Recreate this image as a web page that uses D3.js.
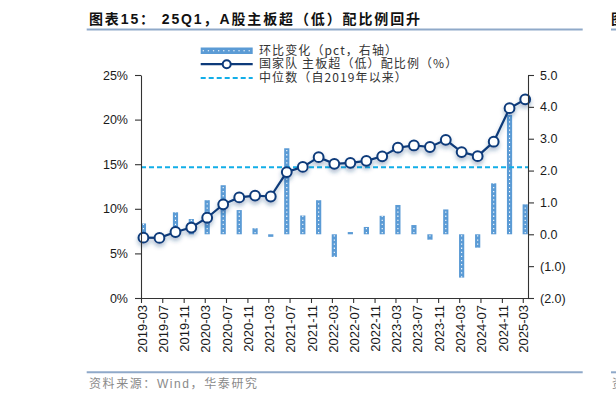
<!DOCTYPE html>
<html>
<head>
<meta charset="utf-8">
<script src="https://cdn.jsdelivr.net/npm/d3@7"></script>
<style>
    body { margin: 0; background: #fff; }
    svg { display: block; font-family: 'Liberation Sans', Arial, 'Noto Sans CJK SC', sans-serif; }
</style>
</head>
<body>
<div id="chart"></div>
<script>
// quarterly observations, 2019-03 .. 2025-03
const categories = [
    '2019-03', '2019-06', '2019-09', '2019-12',
    '2020-03', '2020-06', '2020-09', '2020-12',
    '2021-03', '2021-06', '2021-09', '2021-12',
    '2022-03', '2022-06', '2022-09', '2022-12',
    '2023-03', '2023-06', '2023-09', '2023-12',
    '2024-03', '2024-06', '2024-09', '2024-12',
    '2025-03'
];
// 国家队 主板超（低）配比例（%），左轴
const ratioValues = [
    6.76, 6.74, 7.40, 7.90, 9.00, 10.50, 11.28, 11.48, 11.38, 14.12, 14.70, 15.79,
    15.04, 15.15, 15.38, 15.88, 16.85, 17.10, 16.93, 17.73, 16.36, 15.90, 17.52, 21.28,
    22.27
];
// 环比变化（pct），右轴
const changeValues = [
    0.34, 0.00, 0.69, 0.48, 1.07, 1.54, 0.76, 0.19, -0.08, 2.70, 0.59, 1.07,
    -0.71, 0.07, 0.23, 0.58, 0.92, 0.29, -0.17, 0.78, -1.36, -0.42, 1.60, 3.75,
    0.94
];
const medianValue = 14.65;
const xTickLabels = [
    '2019-03', '2019-07', '2019-11', '2020-03', '2020-07', '2020-11', '2021-03',
    '2021-07', '2021-11', '2022-03', '2022-07', '2022-11', '2023-03', '2023-07',
    '2023-11', '2024-03', '2024-07', '2024-11', '2025-03'
];
const leftTicks = [0, 5, 10, 15, 20, 25];
const rightTicks = [-2, -1, 0, 1, 2, 3, 4, 5];
const legendLabels = ['环比变化（pct，右轴）', '国家队 主板超（低）配比例（%）', '中位数（自2019年以来）'];
const titleText = '图表15： 25Q1，A股主板超（低）配比例回升';
const sourceText = '资料来源：Wind，华泰研究';

const NAVY = '#0d3a7a';
const BAR = '#5b9bd5';
const CYAN = '#12aee8';
const RULE = '#8fa9c9';

const W = 616, H = 403;
const plot = {left: 141, right: 528, top: 75, bottom: 298};

const monthStart = d3.timeParse('%Y-%m');
const midMonth = s => d3.timeDay.offset(monthStart(s), 14);

const svg = d3.select('#chart').append('svg')
    .attr('width', W)
    .attr('height', H);

const defs = svg.append('defs');
const shadow = defs.append('filter')
    .attr('id', 'shadow')
    .attr('x', '-10%').attr('y', '-30%')
    .attr('width', '120%').attr('height', '180%');
shadow.append('feDropShadow')
    .attr('dx', 0).attr('dy', 3)
    .attr('stdDeviation', 2)
    .attr('flood-color', '#1d3f7a')
    .attr('flood-opacity', 0.35);
defs.append('clipPath').attr('id', 'plotclip')
    .append('rect')
    .attr('x', plot.left).attr('y', plot.top)
    .attr('width', plot.right - plot.left)
    .attr('height', plot.bottom - plot.top);

// header and footer
svg.append('text')
    .attr('x', 89).attr('y', 24)
    .attr('font-size', 14).attr('font-weight', 'bold')
    .attr('fill', '#111')
    .attr('textLength', 331).attr('lengthAdjust', 'spacing')
    .text(titleText);
svg.append('text')
    .attr('x', 611).attr('y', 24)
    .attr('font-size', 14).attr('font-weight', 'bold')
    .attr('fill', '#111')
    .text('图');
[29.5, 372.3].forEach(y => {
    svg.append('line')
        .attr('x1', 86.7).attr('x2', 582.7)
        .attr('y1', y).attr('y2', y)
        .attr('stroke', RULE).attr('stroke-width', 2);
    svg.append('line')
        .attr('x1', 611).attr('x2', W)
        .attr('y1', y).attr('y2', y)
        .attr('stroke', RULE).attr('stroke-width', 2);
});
svg.append('text')
    .attr('x', 89).attr('y', 387.5)
    .attr('font-size', 12).attr('fill', '#8a8a8a')
    .attr('textLength', 168).attr('lengthAdjust', 'spacing')
    .text(sourceText);
svg.append('text')
    .attr('x', 612).attr('y', 387.5)
    .attr('font-size', 12).attr('fill', '#8a8a8a')
    .text('资');

// scales
const x = d3.scaleTime()
    .domain([monthStart(categories[0]), d3.timeDay.offset(d3.timeMonth.offset(monthStart(categories[categories.length - 1]), 1), -1)])
    .range([plot.left, plot.right]);
const yLeft = d3.scaleLinear().domain([0, 25]).range([plot.bottom, plot.top]);
const yRight = d3.scaleLinear().domain([-2, 5]).range([plot.bottom, plot.top]);

const rows = categories.map((c, i) => ({date: midMonth(c), ratio: ratioValues[i], change: changeValues[i]}));

// bars (right axis)
const bars = svg.append('g').attr('clip-path', 'url(#plotclip)');
bars.selectAll('rect')
    .data(rows)
    .join('rect')
    .attr('x', d => x(d.date) - 2.6)
    .attr('width', 5.2)
    .attr('y', d => yRight(Math.max(0, d.change)))
    .attr('height', d => Math.abs(yRight(d.change) - yRight(0)))
    .attr('fill', BAR);
bars.selectAll('line')
    .data(rows.filter(d => Math.abs(yRight(d.change) - yRight(0)) > 3))
    .join('line')
    .attr('x1', d => x(d.date)).attr('x2', d => x(d.date))
    .attr('y1', d => yRight(0) - (d.change > 0 ? 1 : -1))
    .attr('y2', d => yRight(d.change))
    .attr('stroke', '#fff')
    .attr('stroke-width', 1.1)
    .attr('stroke-dasharray', '1.3,2.8');

// median
svg.append('line')
    .attr('x1', plot.left).attr('x2', plot.right)
    .attr('y1', yLeft(medianValue)).attr('y2', yLeft(medianValue))
    .attr('stroke', CYAN)
    .attr('stroke-width', 2)
    .attr('stroke-dasharray', '5,3');

// line + markers (left axis)
const line = d3.line()
    .x(d => x(d.date))
    .y(d => yLeft(d.ratio));
const series = svg.append('g').attr('filter', 'url(#shadow)');
series.append('path')
    .attr('d', line(rows))
    .attr('fill', 'none')
    .attr('stroke', NAVY)
    .attr('stroke-width', 2.2);
series.selectAll('circle')
    .data(rows)
    .join('circle')
    .attr('cx', d => x(d.date))
    .attr('cy', d => yLeft(d.ratio))
    .attr('r', 4.9)
    .attr('fill', '#fff')
    .attr('stroke', NAVY)
    .attr('stroke-width', 2);

// axes
function styleAxis(g) {
    g.selectAll('path, line').attr('stroke', '#333').attr('stroke-width', 1.1);
    g.selectAll('text').attr('fill', '#1a1a1a').attr('font-family', "'Liberation Sans', Arial, sans-serif");
}

svg.append('g')
    .attr('transform', `translate(${plot.left},0)`)
    .call(d3.axisLeft(yLeft).tickValues(leftTicks).tickFormat(d => d + '%').tickSize(6).tickSizeOuter(0).tickPadding(7))
    .call(g => g.attr('font-size', 12.5))
    .call(styleAxis);

svg.append('g')
    .attr('transform', `translate(${plot.right},0)`)
    .call(d3.axisRight(yRight).tickValues(rightTicks)
        .tickFormat(d => d < 0 ? `(${Math.abs(d).toFixed(1)})` : d.toFixed(1))
        .tickSize(6).tickSizeOuter(0).tickPadding(6))
    .call(g => g.attr('font-size', 12.5))
    .call(styleAxis);

svg.append('g')
    .attr('transform', `translate(0,${plot.bottom})`)
    .call(d3.axisBottom(x).tickValues(xTickLabels.map(monthStart))
        .tickFormat(d3.timeFormat('%Y-%m')).tickSize(5).tickSizeOuter(0))
    .call(g => g.attr('font-size', 13))
    .call(styleAxis)
    .call(g => g.selectAll('text')
        .attr('transform', 'rotate(-90)')
        .attr('text-anchor', 'end')
        .attr('x', -7).attr('y', 0)
        .attr('dy', '0.4em'));

// legend
const legend = svg.append('g')
    .attr('font-family', "'Noto Sans CJK SC', sans-serif")
    .attr('font-size', 12)
    .attr('letter-spacing', 1.1)
    .attr('fill', '#333');
const lx0 = 200.7, lx1 = 252.7, rowsY = [50.5, 64.2, 78];

legend.append('rect')
    .attr('x', lx0).attr('y', rowsY[0] - 3)
    .attr('width', lx1 - lx0).attr('height', 6.5)
    .attr('fill', BAR);
legend.append('line')
    .attr('x1', lx0 + 2).attr('x2', lx1)
    .attr('y1', rowsY[0] + 0.2).attr('y2', rowsY[0] + 0.2)
    .attr('stroke', '#fff').attr('stroke-width', 1.1)
    .attr('stroke-dasharray', '1.3,3.8');
legend.append('line')
    .attr('x1', lx0).attr('x2', lx1)
    .attr('y1', rowsY[1]).attr('y2', rowsY[1])
    .attr('stroke', NAVY).attr('stroke-width', 2.2);
legend.append('circle')
    .attr('cx', (lx0 + lx1) / 2).attr('cy', rowsY[1])
    .attr('r', 4)
    .attr('fill', '#fff').attr('stroke', NAVY).attr('stroke-width', 2);
legend.append('line')
    .attr('x1', lx0).attr('x2', lx1)
    .attr('y1', rowsY[2]).attr('y2', rowsY[2])
    .attr('stroke', CYAN).attr('stroke-width', 2)
    .attr('stroke-dasharray', '5,3');
legend.selectAll('text')
    .data(legendLabels)
    .join('text')
    .attr('x', 259)
    .attr('y', (d, i) => rowsY[i])
    .attr('dy', '0.35em')
    .text(d => d);
</script>
</body>
</html>
